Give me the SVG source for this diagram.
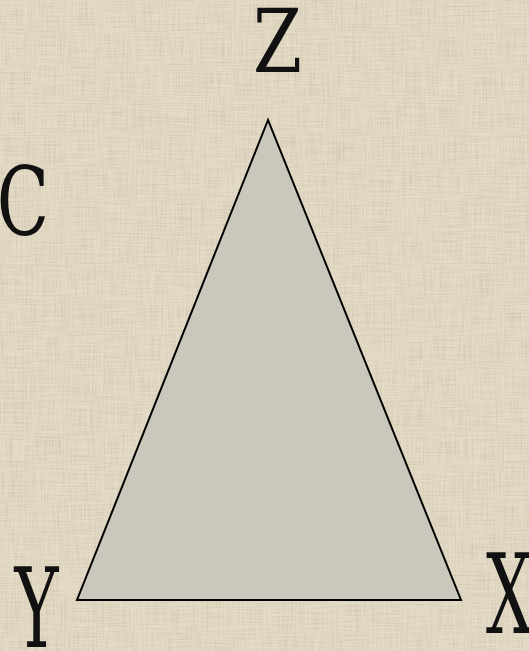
<svg xmlns="http://www.w3.org/2000/svg" width="529" height="651" viewBox="0 0 529 651">
  <style>
    .tri { fill: #cac8bd; stroke: #000000; stroke-width: 2; stroke-linejoin: miter; }
    .lbl { font-family: "DejaVu Serif", "Liberation Serif", serif; fill: #111111; }
  </style>
  <defs>
    <filter id="tex" x="0" y="0" width="100%" height="100%">
      <feTurbulence type="fractalNoise" baseFrequency="0.9 0.03" numOctaves="2" seed="3" result="n1"/>
      <feTurbulence type="fractalNoise" baseFrequency="0.03 0.9" numOctaves="2" seed="7" result="n2"/>
      <feComposite in="n1" in2="n2" operator="arithmetic" k2="0.5" k3="0.5" result="n"/>
      <feColorMatrix in="n" type="matrix" values="0 0 0 0 0.55  0 0 0 0 0.48  0 0 0 0 0.35  -2.6 0 0 0 1.5"/>
    </filter>
  </defs>
  <g id="background">
    <rect x="0" y="0" width="529" height="651" fill="#e4dbc7"/>
    <rect x="0" y="0" width="529" height="651" filter="url(#tex)" opacity="0.65"/>
  </g>
  <g id="connectors"></g>
  <g id="triangle">
    <polygon class="tri" points="268,120 77,600 461,600"/>
  </g>
  <g id="labels">
    <g id="label-Z">
      <text class="lbl" font-size="88" text-anchor="middle" transform="translate(277.5,72) scale(0.8,1)">Z</text>
    </g>
    <g id="label-C">
      <text class="lbl" font-size="95" text-anchor="middle" transform="translate(23,235) scale(0.72,1)">C</text>
    </g>
    <g id="label-Y">
      <text class="lbl" font-size="111" text-anchor="middle" transform="translate(36.5,647) scale(0.6,1)">Y</text>
    </g>
    <g id="label-X">
      <text class="lbl" font-size="110" text-anchor="start" transform="translate(486,633) scale(0.6,1)">X</text>
    </g>
  </g>
</svg>
